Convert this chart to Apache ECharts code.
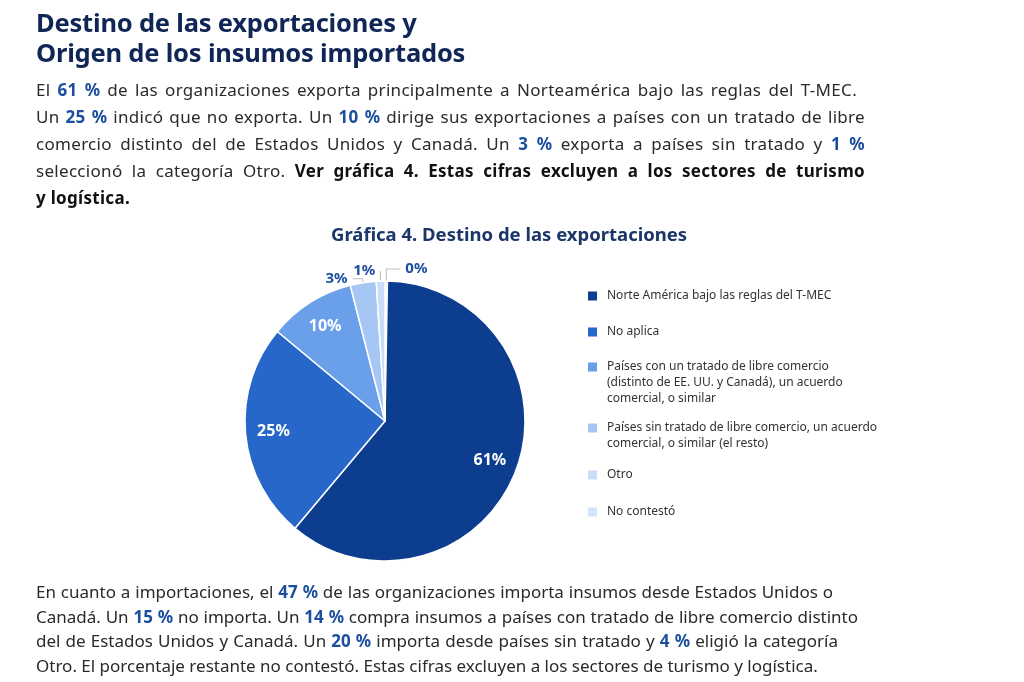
<!DOCTYPE html>
<html>
<head>
<meta charset="utf-8">
<script src="https://cdn.jsdelivr.net/npm/echarts@6/dist/echarts.min.js"></script>
<style>
  html, body { margin: 0; padding: 0; background: #fff; }
  #page { position: relative; width: 1024px; height: 682px; overflow: hidden; font-family: "Noto Sans", "Open Sans", sans-serif; }
  #chart { position: absolute; left: 0; top: 0; width: 1024px; height: 682px; }
  .title { position: absolute; left: 36px; top: 7px; font-size: 25.5px; letter-spacing: -0.2px; font-weight: 700; line-height: 30px; color: #0f2656; }
  .para { position: absolute; left: 36px; color: #2a2a2a; font-size: 17px; }
  .para .ln { display: block; white-space: nowrap; text-align: justify; text-align-last: justify; }
  .para .ln.last { text-align: left; text-align-last: left; }
  .n { color: #1b4e9f; font-weight: 700; }
  .b { color: #111; font-weight: 700; }
  #p1 { top: 75.5px; line-height: 27px; letter-spacing: 0.3px; }
  #p2 { top: 580px; line-height: 24.5px; }
</style>
</head>
<body>
<div id="page">
  <div id="chart"></div>
  <div class="title">Destino de las exportaciones y<br>Origen de los insumos importados</div>
  <div class="para" id="p1">
    <span class="ln" style="width:821px">El <span class="n">61 %</span> de las organizaciones exporta principalmente a Norteamérica bajo las reglas del T-MEC.</span>
    <span class="ln" style="width:829px">Un <span class="n">25 %</span> indicó que no exporta. Un <span class="n">10 %</span> dirige sus exportaciones a países con un tratado de libre</span>
    <span class="ln" style="width:829px">comercio distinto del de Estados Unidos y Canadá. Un <span class="n">3 %</span> exporta a países sin tratado y <span class="n">1 %</span></span>
    <span class="ln" style="width:829px">seleccionó la categoría Otro. <span class="b">Ver gráfica 4. Estas cifras excluyen a los sectores de turismo</span></span>
    <span class="ln last"><span class="b">y logística.</span></span>
  </div>
  <div class="para" id="p2">
    <span class="ln" style="width:797px">En cuanto a importaciones, el <span class="n">47 %</span> de las organizaciones importa insumos desde Estados Unidos o</span>
    <span class="ln" style="width:822px">Canadá. Un <span class="n">15 %</span> no importa. Un <span class="n">14 %</span> compra insumos a países con tratado de libre comercio distinto</span>
    <span class="ln" style="width:802px">del de Estados Unidos y Canadá. Un <span class="n">20 %</span> importa desde países sin tratado y <span class="n">4 %</span> eligió la categoría</span>
    <span class="ln" style="width:772px">Otro. El porcentaje restante no contestó. Estas cifras excluyen a los sectores de turismo y logística.</span>
  </div>
</div>
<script>
// ---- Data ----
const categories = [
  'Norte América bajo las reglas del T-MEC',
  'No aplica',
  'Países con un tratado de libre comercio\n(distinto de EE. UU. y Canadá), un acuerdo\ncomercial, o similar',
  'Países sin tratado de libre comercio, un acuerdo\ncomercial, o similar (el resto)',
  'Otro',
  'No contestó'
];
const values = [61, 25, 10, 3, 1, 0];

// ---- Styles ----
const colors = ['#0c3d8f', '#2667c9', '#6aa0ea', '#a6c6f4', '#c9dcf8', '#d4e4fa'];
const legendLineCenters = [296, 332, 367, 428, 475, 512];
const smallLabelLine = { 3: [4, 10], 4: [10, 0], 5: [12, 14] };

const chart = echarts.init(document.getElementById('chart'), null, { renderer: 'canvas' });

// zero-valued slices first so their label sits right of the top (same visual order)
const order = values.map((v, i) => i).sort((a, b) => (values[a] === 0 ? 0 : 1) - (values[b] === 0 ? 0 : 1));

const mainData = order.map(i => {
  const small = values[i] < 5;
  const ll = smallLabelLine[i] || [6, 6];
  return {
    name: categories[i],
    value: values[i],
    itemStyle: { color: colors[i] },
    label: { show: small },
    labelLine: { show: small, length: ll[0], length2: ll[1] }
  };
});
const innerData = order.map(i => ({
  name: categories[i],
  value: values[i],
  label: { show: values[i] >= 5 }
}));

const legends = categories.map((name, i) => {
  const lines = name.split('\n').length;
  return {
    data: [name],
    orient: 'vertical',
    left: 588,
    top: legendLineCenters[i] - (2 * lines - 1) * 8,
    padding: 0,
    itemWidth: 9,
    itemHeight: 9,
    icon: 'rect',
    itemStyle: { borderWidth: 0 },
    formatter: n => '\n'.repeat(lines - 1) + n,
    textStyle: {
      fontFamily: 'Noto Sans',
      fontSize: 12,
      color: '#333',
      lineHeight: 16,
      padding: [0, 0, 0, 5]
    }
  };
});

chart.setOption({
  animation: false,
  title: {
    text: 'Gráfica 4. Destino de las exportaciones',
    left: 326,
    top: 221,
    textStyle: { fontFamily: 'Noto Sans', fontSize: 18.5, fontWeight: 'bold', color: '#1b3668' }
  },
  tooltip: { trigger: 'item', formatter: p => p.name.replace(/\n/g, ' ') + ': ' + p.value + '%' },
  legend: legends,
  series: [
    {
      type: 'pie',
      center: [385, 421],
      radius: [0, 140],
      startAngle: 90,
      clockwise: true,
      minAngle: 1,
      avoidLabelOverlap: false,
      itemStyle: { borderColor: '#fff', borderWidth: 1.5 },
      label: {
        position: 'outside',
        formatter: '{c}%',
        fontFamily: 'Noto Sans',
        fontSize: 15,
        fontWeight: 'bold',
        color: '#1d4ea2'
      },
      labelLine: { lineStyle: { color: '#bdbdbd', width: 1 }, smooth: false },
      emphasis: { scale: false },
      data: mainData
    },
    {
      type: 'pie',
      center: [385, 421],
      radius: [78, 140],
      startAngle: 90,
      clockwise: true,
      minAngle: 1,
      silent: true,
      legendHoverLink: false,
      tooltip: { show: false },
      itemStyle: { color: 'rgba(0,0,0,0)', borderWidth: 0 },
      label: {
        position: 'inside',
        formatter: '{c}%',
        fontFamily: 'Noto Sans',
        fontSize: 16,
        fontWeight: 'bold',
        color: '#fff'
      },
      labelLine: { show: false },
      emphasis: { disabled: true },
      data: innerData
    }
  ]
});
</script>
</body>
</html>
